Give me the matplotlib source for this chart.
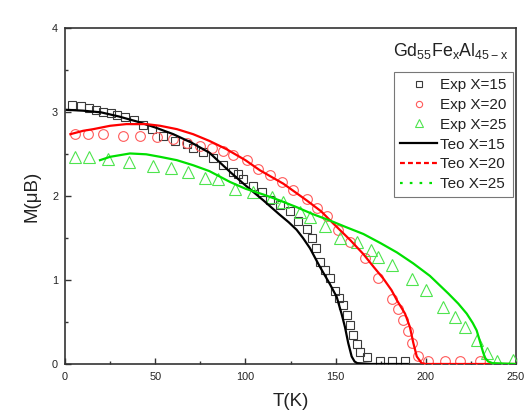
#!/usr/bin/env python3
"""Magnetization vs temperature for Gd55FexAl45-x, experiment vs theory."""

import matplotlib
matplotlib.use("Agg")
import matplotlib.pyplot as plt
from matplotlib.lines import Line2D
from matplotlib.ticker import MultipleLocator

plt.rcParams["font.family"] = ["Liberation Sans", "DejaVu Sans"]
plt.rcParams["mathtext.fontset"] = "custom"
plt.rcParams["mathtext.rm"] = "Liberation Sans"
plt.rcParams["mathtext.default"] = "regular"

EXP15_T = [3.7, 8.7, 13.5, 17.2, 21, 25.3, 29, 33.3, 38, 43.4, 48, 54.5, 61,
           67.5, 71, 76.7, 82, 87.8, 93.3, 96, 98.8, 104.4, 109, 113.6, 119,
           124.7, 129.3, 134, 136.7, 139, 141.4, 144, 146.9, 149.7, 152, 154.3,
           156.1, 158, 159.8, 161.7, 163.5, 167.2, 174.6, 181, 188.5]
EXP15_M = [3.09, 3.07, 3.05, 3.03, 3.01, 2.99, 2.97, 2.94, 2.91, 2.85, 2.80,
           2.72, 2.66, 2.62, 2.58, 2.53, 2.45, 2.37, 2.29, 2.26, 2.21, 2.12,
           2.05, 1.96, 1.89, 1.82, 1.71, 1.61, 1.50, 1.38, 1.22, 1.12, 1.02,
           0.87, 0.79, 0.70, 0.58, 0.46, 0.35, 0.24, 0.14, 0.08, 0.04, 0.03,
           0.03]

EXP20_T = [5.5, 13, 21, 32.3, 41.6, 50.8, 60, 67.5, 74.8, 81.3, 87.8, 93.3,
           100.7, 107.2, 113.6, 120.1, 126.6, 134, 139.5, 145, 151.5, 158,
           166.3, 173.7, 181, 184.5, 187.5, 190.3, 192.2, 195.9, 201, 210.6,
           219, 230]
EXP20_M = [2.74, 2.74, 2.74, 2.72, 2.72, 2.71, 2.68, 2.63, 2.60, 2.58, 2.54,
           2.49, 2.43, 2.33, 2.25, 2.17, 2.07, 1.97, 1.86, 1.77, 1.60, 1.45,
           1.26, 1.02, 0.78, 0.65, 0.52, 0.39, 0.25, 0.10, 0.04, 0.03, 0.03,
           0.03]

EXP25_T = [5.5, 13.5, 24, 35.5, 49, 59, 68.4, 77.6, 85, 94.2, 104.4, 114.6,
           121, 130.3, 135.8, 144.1, 152.4, 162, 169.5, 173.7, 181.5, 192.5,
           200, 209.7, 216.2, 221.7, 228.2, 233.7, 239.3, 248.5]
EXP25_M = [2.47, 2.47, 2.44, 2.41, 2.36, 2.34, 2.29, 2.22, 2.20, 2.09, 2.05,
           1.99, 1.93, 1.81, 1.75, 1.65, 1.50, 1.45, 1.36, 1.28, 1.18, 1.01,
           0.88, 0.68, 0.56, 0.44, 0.29, 0.13, 0.03, 0.05]

# Theory curves
TEO15_T = [1, 10, 20, 30, 40, 50, 60, 70, 80, 91.5, 100, 110, 119, 124,
           128.4, 132, 135.8, 141, 146.9, 150.6, 153.3, 155.2, 157, 158.9,
           160.5, 162, 170, 190]
TEO15_M = [3.03, 3.02, 3.00, 2.95, 2.89, 2.82, 2.74, 2.64, 2.52, 2.29, 2.13,
           1.95, 1.78, 1.69, 1.60, 1.50, 1.38, 1.17, 0.95, 0.80, 0.60, 0.44,
           0.25, 0.09, 0.03, 0.01, 0.0, 0.0]

TEO20_T = [3, 10, 15.7, 25, 34, 45, 52.7, 62, 71, 80, 89.6, 100, 108, 121,
           134, 142, 148, 158, 165.4, 171, 176.4, 181, 184, 188.5, 191.2,
           193.1, 195, 197.7, 200, 250]
TEO20_M = [2.74, 2.78, 2.80, 2.84, 2.86, 2.86, 2.84, 2.80, 2.74, 2.66, 2.56,
           2.43, 2.31, 2.15, 1.95, 1.82, 1.69, 1.48, 1.31, 1.16, 1.02, 0.88,
           0.76, 0.60, 0.44, 0.25, 0.09, 0.01, 0.0, 0.0]

TEO25_T = [19.4, 25, 36, 45, 52.7, 62, 71, 80, 91.5, 100, 110, 119, 128.4,
           137, 146.9, 156, 165.4, 175, 184, 193, 202.3, 212.5, 218, 222.7,
           226, 228.2, 230, 231.9, 233, 234.6, 237, 250]
TEO25_M = [2.43, 2.47, 2.51, 2.50, 2.47, 2.43, 2.37, 2.30, 2.17, 2.09, 2.02,
           1.95, 1.87, 1.79, 1.71, 1.63, 1.55, 1.44, 1.33, 1.20, 1.05, 0.84,
           0.72, 0.60, 0.49, 0.40, 0.27, 0.13, 0.07, 0.03, 0.01, 0.0]

FRAME = "#333333"
TEXT = "#222222"
RED = "#ff0000"
GREEN = "#00e000"


def main() -> None:
  fig = plt.figure(figsize=(5.29, 4.17), dpi=100)
  fig.patch.set_facecolor("white")
  ax = fig.add_axes([0.1229, 0.1271, 0.8525, 0.8046])

  ax.plot(EXP15_T, EXP15_M, ls="none", marker="s", ms=6.3, mfc="none",
          mec="#3a3a3a", mew=0.8, zorder=3)
  ax.plot(EXP20_T, EXP20_M, ls="none", marker="o", ms=7, mfc="none",
          mec="#ff5a5a", mew=0.8, zorder=3)
  ax.plot(EXP25_T, EXP25_M, ls="none", marker="^", ms=8, mfc="none",
          mec="#4ee44e", mew=0.8, zorder=3)

  ax.plot(TEO15_T, TEO15_M, color="black", lw=1.6, zorder=4)
  ax.plot(TEO20_T, TEO20_M, color=RED, lw=1.6, zorder=4)
  ax.plot(TEO25_T, TEO25_M, color=GREEN, lw=1.6, zorder=4)

  ax.set_xlim(0, 250)
  ax.set_ylim(0, 4)
  ax.xaxis.set_major_locator(MultipleLocator(50))
  ax.xaxis.set_minor_locator(MultipleLocator(25))
  ax.yaxis.set_major_locator(MultipleLocator(1))
  ax.yaxis.set_minor_locator(MultipleLocator(0.5))
  ax.tick_params(which="both", direction="in", top=False, right=False,
                 colors=FRAME, labelcolor=TEXT, labelsize=7.8, width=1)
  ax.tick_params(which="major", length=4)
  ax.tick_params(which="minor", length=2.5)
  ax.tick_params(axis="x", pad=6)
  ax.tick_params(axis="y", pad=5)
  for spine in ax.spines.values():
    spine.set_color(FRAME)
    spine.set_linewidth(1.2)

  ax.set_xlabel("T(K)", fontsize=13.5, color=TEXT, labelpad=8)
  ax.set_ylabel("M(\u03bcB)", fontsize=13.5, color=TEXT, labelpad=8)

  ax.text(0.984, 0.918, r"Gd$_{55}$Fe$_{x}$Al$_{45-x}$", transform=ax.transAxes,
          ha="right", va="baseline", fontsize=12.8, color=TEXT)

  handles = [
      Line2D([], [], ls="none", marker="s", ms=4, mfc="none", mec="#3a3a3a", mew=0.8),
      Line2D([], [], ls="none", marker="o", ms=4.5, mfc="none", mec="#ff5a5a", mew=0.8),
      Line2D([], [], ls="none", marker="^", ms=6, mfc="none", mec="#4ee44e", mew=0.8),
      Line2D([], [], color="black", lw=1.6),
      Line2D([], [], color=RED, lw=1.6, ls=(0, (2.2, 1.4))),
      Line2D([], [], color=GREEN, lw=1.6, ls=(0, (1.2, 3.2))),
  ]
  labels = ["Exp X=15", "Exp X=20", "Exp X=25", "Teo X=15", "Teo X=20",
            "Teo X=25"]
  leg = ax.legend(handles, labels, loc="upper right",
                  bbox_to_anchor=(0.993, 0.870), fontsize=11, frameon=True,
                  fancybox=False, handlelength=2.45, handletextpad=0.2,
                  labelspacing=0.38, borderpad=0.4, borderaxespad=0)
  leg.get_frame().set_edgecolor("#555555")
  leg.get_frame().set_linewidth(0.8)
  for t in leg.get_texts():
    t.set_color(TEXT)

  fig.savefig("out.png", dpi=100)
  plt.close(fig)


if __name__ == "__main__":
  main()
